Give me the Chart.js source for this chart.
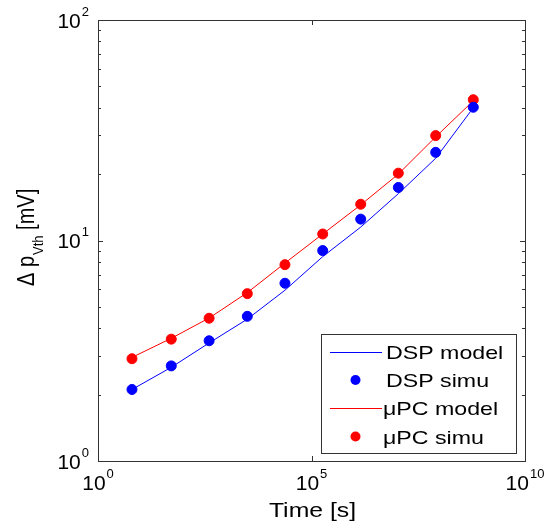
<!DOCTYPE html>
<html>
<head>
<meta charset="utf-8">
<script src="https://cdn.jsdelivr.net/npm/chart.js@4.4.0/dist/chart.umd.min.js"></script>
<style>
  html, body { margin: 0; padding: 0; background: #fff; }
</style>
</head>
<body>
<canvas id="chart" width="557" height="529"></canvas>
<script>
// values (log-log axes)
const timeS = [6.25, 52, 400, 3140, 23900, 183000, 1.42e6, 1.08e7, 8.1e7, 6.15e8];
const dspModel = [2.11, 2.66, 3.43, 4.40, 5.95, 8.45, 11.5, 16.3, 23.6, 40.0];
const dspSimu = [2.11, 2.70, 3.51, 4.53, 6.40, 9.0, 12.5, 17.4, 25.1, 40.2];
const upcModel = [2.95, 3.60, 4.45, 5.80, 7.90, 10.7, 14.5, 20.0, 29.5, 43.0];
const upcSimu = [2.91, 3.57, 4.44, 5.74, 7.77, 10.7, 14.6, 20.2, 29.9, 43.5];
const xTickExps = [0, 5, 10];
const yTickExps = [0, 1, 2];
const seriesNames = ['DSP model', 'DSP simu', '\u03bcPC model', '\u03bcPC simu'];
const xTitle = 'Time [s]';
const yTitleParts = ['\u0394 p', 'Vth', ' [mV]'];

const BLUE = '#0000ff';
const RED = '#ff0000';
const FONT = '"Liberation Sans", Arial, sans-serif';

const pts = vals => vals.map((v, i) => ({ x: timeS[i], y: v }));

function txt(ctx, s, x, y, size, align, sx) {
    ctx.save();
    ctx.font = size + 'px ' + FONT;
    ctx.textAlign = align || 'left';
    ctx.textBaseline = 'alphabetic';
    ctx.translate(x, y);
    ctx.scale(sx || 1, 1);
    ctx.fillText(s, 0, 0);
    ctx.restore();
}

// "10^e" label, anchored by its right edge or its centre
function powLabel(ctx, exp, x, y, anchor) {
    ctx.font = '21px ' + FONT;
    const wb = ctx.measureText('10').width;
    ctx.font = '13px ' + FONT;
    const we = ctx.measureText(String(exp)).width;
    const w = wb + 1 + we;
    const left = anchor === 'right' ? x - w : x - w / 2;
    txt(ctx, '10', left, y + 7.5, 21);
    txt(ctx, String(exp), left + wb + 1, y - 4.5, 13);
}

const framePlugin = {
    id: 'frame',
    afterDatasetsDraw(chart) {
        const { ctx, chartArea: a, scales } = chart;
        const xs = scales.x, ys = scales.y;
        ctx.save();
        ctx.fillStyle = '#000';
        ctx.strokeStyle = '#333';
        ctx.lineWidth = 1;

        // box
        ctx.strokeRect(a.left + 0.5, a.top + 0.5, a.right - a.left, a.bottom - a.top);

        // y ticks (major + minor), both sides, inward
        ctx.beginPath();
        for (let e = yTickExps[0]; e < yTickExps[yTickExps.length - 1]; e++) {
            for (let m = 1; m <= 9; m++) {
                const v = m * Math.pow(10, e);
                if (m === 1 && e === yTickExps[0]) continue;
                const py = Math.round(ys.getPixelForValue(v)) + 0.5;
                const len = m === 1 ? 5 : 3;
                ctx.moveTo(a.left, py); ctx.lineTo(a.left + len, py);
                ctx.moveTo(a.right, py); ctx.lineTo(a.right - len, py);
            }
        }
        // x ticks
        xTickExps.forEach(e => {
            const px = Math.round(xs.getPixelForValue(Math.pow(10, e))) + 0.5;
            ctx.moveTo(px, a.bottom); ctx.lineTo(px, a.bottom - 5);
            ctx.moveTo(px, a.top); ctx.lineTo(px, a.top + 5);
        });
        ctx.stroke();

        // tick labels
        yTickExps.forEach(e => powLabel(ctx, e, a.left - 9, ys.getPixelForValue(Math.pow(10, e)), 'right'));
        xTickExps.forEach(e => powLabel(ctx, e, xs.getPixelForValue(Math.pow(10, e)), a.bottom + 21, 'center'));

        // x title
        txt(ctx, xTitle, (a.left + a.right) / 2 + 1, 517, 21, 'center', 1.18);

        // y title, rotated, with subscript
        ctx.save();
        ctx.translate(34, 286);
        ctx.rotate(-Math.PI / 2);
        ctx.scale(1, 1.15);
        ctx.textBaseline = 'alphabetic';
        ctx.font = '20px ' + FONT;
        ctx.fillText(yTitleParts[0], 0, 0);
        let off = ctx.measureText(yTitleParts[0]).width + 1;
        ctx.font = '13px ' + FONT;
        ctx.fillText(yTitleParts[1], off, 8);
        off += ctx.measureText(yTitleParts[1]).width;
        ctx.font = '20px ' + FONT;
        ctx.fillText(yTitleParts[2], off, 0);
        ctx.restore();

        // legend
        const lx = 321.5, ly = 334.5, lw = 195, lh = 119;
        ctx.fillStyle = '#fff';
        ctx.fillRect(lx, ly, lw, lh);
        ctx.strokeStyle = '#333';
        ctx.strokeRect(lx, ly, lw, lh);
        const rows = [358.5, 387, 415, 443.5];
        chart.data.datasets.forEach((ds, i) => {
            const midY = rows[i] - 7;
            if (ds.showLine) {
                ctx.strokeStyle = ds.borderColor;
                ctx.beginPath();
                ctx.moveTo(330, Math.round(midY) + 0.5);
                ctx.lineTo(382, Math.round(midY) + 0.5);
                ctx.stroke();
            } else {
                ctx.fillStyle = ds.backgroundColor;
                ctx.beginPath();
                ctx.arc(355.5, midY, 5, 0, Math.PI * 2);
                ctx.fill();
            }
            ctx.fillStyle = '#000';
            txt(ctx, ds.label, i >= 2 ? 383 : 386, rows[i], 19, 'left', 1.22);
        });
        ctx.restore();
    }
};

new Chart(document.getElementById('chart'), {
    type: 'scatter',
    data: {
        datasets: [
            { label: seriesNames[0], data: pts(dspModel), showLine: true, borderColor: BLUE, borderWidth: 1, pointRadius: 0, order: 2 },
            { label: seriesNames[1], data: pts(dspSimu), showLine: false, backgroundColor: BLUE, borderColor: BLUE, pointRadius: 5, pointBorderWidth: 1, order: 1 },
            { label: seriesNames[2], data: pts(upcModel), showLine: true, borderColor: RED, borderWidth: 1, pointRadius: 0, order: 2 },
            { label: seriesNames[3], data: pts(upcSimu), showLine: false, backgroundColor: RED, borderColor: RED, pointRadius: 5, pointBorderWidth: 1, order: 1 }
        ]
    },
    options: {
        responsive: false,
        animation: false,
        layout: { padding: { left: 98, top: 20, right: 32, bottom: 68 } },
        plugins: { legend: { display: false }, tooltip: { enabled: false } },
        scales: {
            x: { type: 'logarithmic', min: 1, max: 1e10, display: false },
            y: { type: 'logarithmic', min: 1, max: 100, display: false }
        }
    },
    plugins: [framePlugin]
});
</script>
</body>
</html>
